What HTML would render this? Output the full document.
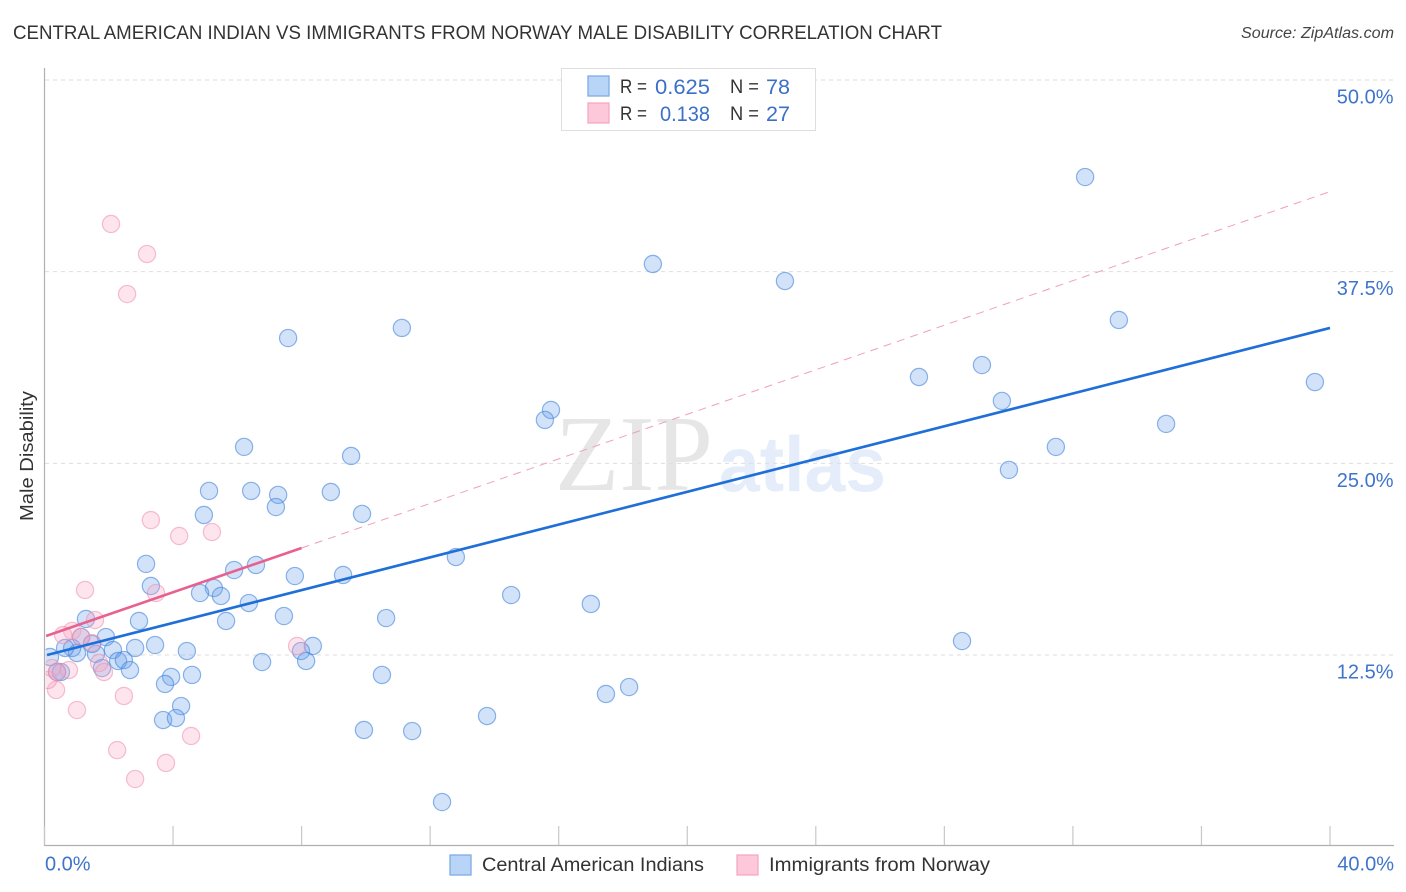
<!DOCTYPE html>
<html lang="en">
<head>
<meta charset="utf-8">
<title>Central American Indian vs Immigrants from Norway Male Disability Correlation Chart</title>
<style>
html,body{margin:0;padding:0;background:#fff;width:1406px;height:892px;overflow:hidden}
svg{display:block;font-family:"Liberation Sans",sans-serif}
</style>
</head>
<body>
<svg id="chart" xmlns="http://www.w3.org/2000/svg" width="1406" height="892" viewBox="0 0 1406 892">
  <defs>
    <clipPath id="plot-clip"><rect x="45.5" y="60" width="1350" height="786"/></clipPath>
  </defs>
  <text x="13" y="39" font-size="19" fill="#333" textLength="929" lengthAdjust="spacingAndGlyphs">CENTRAL AMERICAN INDIAN VS IMMIGRANTS FROM NORWAY MALE DISABILITY CORRELATION CHART</text>
  <text x="1394" y="38" font-size="15.5" font-style="italic" fill="#444" text-anchor="end" textLength="153" lengthAdjust="spacingAndGlyphs">Source: ZipAtlas.com</text>
  <g>
    <text x="555" y="490" font-family="'Liberation Serif',serif" font-size="108" fill="#e6e6e6" textLength="158" lengthAdjust="spacingAndGlyphs">ZIP</text>
    <text x="719" y="491" font-size="78" font-weight="bold" fill="#e4edf9" textLength="167" lengthAdjust="spacingAndGlyphs">atlas</text>
  </g>
  <g id="grid"></g>
  <g id="axes"></g>
  <g id="points-blue" clip-path="url(#plot-clip)"></g>
  <g id="points-pink" clip-path="url(#plot-clip)"></g>
  <g id="trends"></g>
  <text transform="translate(33,456) rotate(-90)" font-size="18" fill="#333" text-anchor="middle" textLength="130" lengthAdjust="spacingAndGlyphs">Male Disability</text>

  <g>
    <rect x="561.5" y="68.5" width="254" height="62" fill="#fff" stroke="#dedede" stroke-width="1"/>
    <rect x="588" y="76" width="21" height="20" fill="#b8d4f6" stroke="#7fabe3" stroke-width="1.3"/>
    <rect x="588" y="103" width="21" height="20" fill="#fdc9da" stroke="#f3a9c2" stroke-width="1.3"/>
    <text x="620" y="93" font-size="19" fill="#333" textLength="27" lengthAdjust="spacingAndGlyphs">R =</text>
    <text x="655" y="94" font-size="21" fill="#3a70c8" textLength="55" lengthAdjust="spacingAndGlyphs">0.625</text>
    <text x="730" y="93" font-size="19" fill="#333" textLength="29" lengthAdjust="spacingAndGlyphs">N =</text>
    <text x="766" y="94" font-size="21" fill="#3a70c8" textLength="24" lengthAdjust="spacingAndGlyphs">78</text>
    <text x="620" y="120" font-size="19" fill="#333" textLength="27" lengthAdjust="spacingAndGlyphs">R =</text>
    <text x="660" y="121" font-size="21" fill="#3a70c8" textLength="50" lengthAdjust="spacingAndGlyphs">0.138</text>
    <text x="730" y="120" font-size="19" fill="#333" textLength="29" lengthAdjust="spacingAndGlyphs">N =</text>
    <text x="766" y="121" font-size="21" fill="#3a70c8" textLength="24" lengthAdjust="spacingAndGlyphs">27</text>
  </g>

  <g>
    <rect x="450" y="855" width="21" height="20" fill="#b8d4f6" stroke="#7fabe3" stroke-width="1.3"/>
    <text x="482" y="871" font-size="19" fill="#333" textLength="222" lengthAdjust="spacingAndGlyphs">Central American Indians</text>
    <rect x="737" y="855" width="21" height="20" fill="#fdc9da" stroke="#f3a9c2" stroke-width="1.3"/>
    <text x="769" y="871" font-size="19" fill="#333" textLength="221" lengthAdjust="spacingAndGlyphs">Immigrants from Norway</text>
  </g>
</svg>
<script>
const yGridValues = [12.5, 25, 37.5, 50];
const yTickLabels = ["12.5%", "25.0%", "37.5%", "50.0%"];
const xTickValues = [0, 4, 8, 12, 16, 20, 24, 28, 32, 36, 40];
const xEndValues = [0, 40];
const xEndLabels = ["0.0%", "40.0%"];

const blueX = [32.38,18.93,23.04,33.43,11.12,7.58,29.17,27.21,39.53,29.79,15.76,15.57,34.90,6.21,31.47,9.54,30.01,5.12,6.43,7.27,8.91,7.20,4.96,9.88,3.16,12.80,6.58,5.90,7.79,9.29,3.31,5.27,4.84,5.49,14.52,6.36,17.00,7.45,10.63,5.65,2.94,1.29,1.91,28.55,3.44,8.35,4.43,7.98,8.14,6.77,2.82,2.13,1.60,1.48,1.14,1.01,0.86,0.64,0.17,2.29,2.47,2.66,1.79,3.94,3.75,4.59,10.50,18.19,17.47,4.25,13.77,3.69,4.09,9.94,11.44,12.37,0.39,0.51];
const blueY = [43.67,38.00,36.89,34.35,33.83,33.17,31.41,30.63,30.30,29.07,28.48,27.83,27.57,26.07,26.07,25.48,24.57,23.20,23.20,22.94,23.13,22.15,21.63,21.70,18.44,18.89,18.37,18.04,17.65,17.72,17.00,16.87,16.54,16.35,16.41,15.89,15.83,15.04,14.91,14.72,14.72,14.85,13.67,13.41,13.15,13.09,12.76,12.76,12.11,12.04,12.96,12.83,12.57,13.22,13.67,12.63,12.96,12.96,12.37,12.11,12.17,11.52,11.65,11.07,10.61,11.20,11.20,10.41,9.96,9.17,8.52,8.26,8.39,7.61,7.54,2.91,11.39,11.39];

const pinkX = [2.07,3.19,2.57,3.31,4.19,5.21,1.26,3.47,1.57,0.86,0.58,1.14,1.48,1.70,1.85,0.76,0.36,1.01,2.47,2.26,4.56,2.82,3.78,7.86,0.11,0.23,0.39];
const pinkY = [40.61,38.65,36.04,21.30,20.26,20.52,16.74,16.54,14.78,14.07,13.80,13.67,13.28,11.98,11.39,11.52,10.22,8.91,9.83,6.30,7.22,4.41,5.46,13.09,10.87,11.65,11.39];

const blueTrendX = [0.08, 40];
const blueTrendY = [12.5, 33.83];
const pinkTrendX = [0.05, 8];
const pinkTrendY = [13.74, 19.48];
const pinkDashX = [8, 40.05];
const pinkDashY = [19.48, 42.76];

const NS = "http://www.w3.org/2000/svg";
const xScale = v => 44.5 + v * 32.1375;
const yScale = v => 846.67 - v * 15.3336;
const make = (tag, parent, attrs) => {
  const el = document.createElementNS(NS, tag);
  for (const k in attrs) el.setAttribute(k, attrs[k]);
  parent.appendChild(el);
  return el;
};

const grid = document.getElementById("grid");
yGridValues.forEach((v, i) => {
  const line = make("line", grid, {x1: 45, x2: 1394, y1: yScale(v), y2: yScale(v), stroke: "#dedede", "stroke-width": 1, "stroke-dasharray": "4 4"});
  
  
  const label = make("text", grid, {x: 1393.5, y: yScale(v) + 23.5, "font-size": 20, fill: "#3f74cb", "text-anchor": "end"});
  label.textContent = yTickLabels[i];
  
  
});

const axes = document.getElementById("axes");
const yAxis = make("line", axes, {x1: 44.5, x2: 44.5, y1: 68, y2: 846, stroke: "#b0b0b0", "stroke-width": 1.2});


const xAxis = make("line", axes, {x1: 44, x2: 1394, y1: 845.5, y2: 845.5, stroke: "#b0b0b0", "stroke-width": 1.2});


xTickValues.forEach(v => {
  const tick = make("line", axes, {x1: xScale(v), x2: xScale(v), y1: 826, y2: 845, stroke: "#c8c8c8", "stroke-width": 1.2});
  
  
});
xEndValues.forEach((v, i) => {
  const label = make("text", axes, {x: i === 0 ? xScale(v) + 0.5 : 1394, y: 870.5, "font-size": 20, fill: "#3f74cb", "text-anchor": i === 0 ? "start" : "end"});
  label.textContent = xEndLabels[i];
  
  
});

const bluePoints = document.getElementById("points-blue");
blueX.forEach((v, i) => {
  const c = make("circle", bluePoints, {cx: xScale(v), cy: yScale(blueY[i]), r: 8.6, fill: "rgba(105,160,235,0.3)", stroke: "rgba(70,135,220,0.62)", "stroke-width": 1.2});
  
  
});

const pinkPoints = document.getElementById("points-pink");
pinkX.forEach((v, i) => {
  const c = make("circle", pinkPoints, {cx: xScale(v), cy: yScale(pinkY[i]), r: 8.6, fill: "rgba(250,165,195,0.3)", stroke: "rgba(238,140,172,0.55)", "stroke-width": 1.2});
  
  
});

const trends = document.getElementById("trends");
const pinkDash = make("line", trends, {x1: xScale(pinkDashX[0]), y1: yScale(pinkDashY[0]), x2: xScale(pinkDashX[1]), y2: yScale(pinkDashY[1]), stroke: "#eea0b8", "stroke-width": 1, "stroke-dasharray": "8 6"});


const blueTrend = make("line", trends, {x1: xScale(blueTrendX[0]), y1: yScale(blueTrendY[0]), x2: xScale(blueTrendX[1]), y2: yScale(blueTrendY[1]), stroke: "#1f6fd8", "stroke-width": 2.6});


const pinkTrend = make("line", trends, {x1: xScale(pinkTrendX[0]), y1: yScale(pinkTrendY[0]), x2: xScale(pinkTrendX[1]), y2: yScale(pinkTrendY[1]), stroke: "#e8608f", "stroke-width": 2.6});


</script>
</body>
</html>
